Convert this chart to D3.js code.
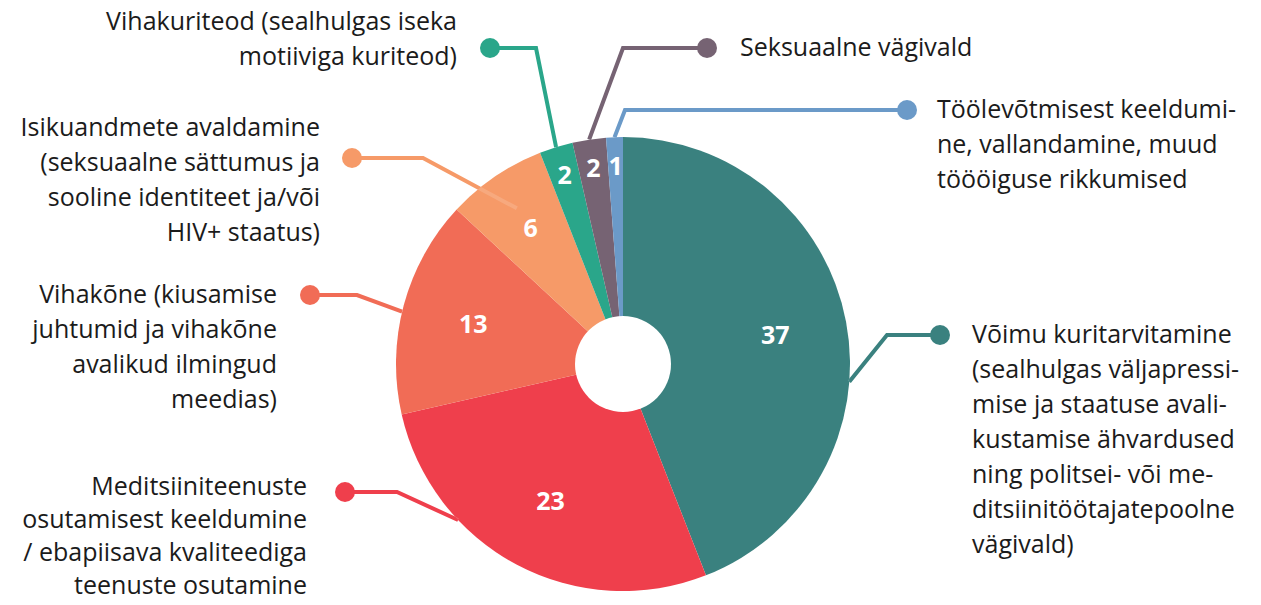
<!DOCTYPE html>
<html><head><meta charset="utf-8">
<script src="https://cdn.jsdelivr.net/npm/d3@7"></script>
<style>
body{margin:0;background:#fff;}
svg{display:block;}
text{font-family:"Open Sans","Noto Sans",sans-serif;}
</style></head>
<body>
<svg id="chart" width="1261" height="605"></svg>
<script>
// ---- data ----
const categories = [
  "Võimu kuritarvitamine",
  "Meditsiiniteenuste osutamisest keeldumine",
  "Vihakõne",
  "Isikuandmete avaldamine",
  "Vihakuriteod",
  "Seksuaalne vägivald",
  "Töölevõtmisest keeldumine"
];
const values = [37, 23, 13, 6, 2, 2, 1];
const labelLines = [
  ["Võimu kuritarvitamine","(sealhulgas väljapressi-","mise ja staatuse avali-","kustamise ähvardused","ning politsei- või me-","ditsiinitöötajatepoolne","vägivald)"],
  ["Meditsiiniteenuste","osutamisest keeldumine","/ ebapiisava kvaliteediga","teenuste osutamine"],
  ["Vihakõne (kiusamise","juhtumid ja vihakõne","avalikud ilmingud","meedias)"],
  ["Isikuandmete avaldamine","(seksuaalne sättumus ja","sooline identiteet ja/või","HIV+ staatus)"],
  ["Vihakuriteod (sealhulgas iseka","motiiviga kuriteod)"],
  ["Seksuaalne vägivald"],
  ["Töölevõtmisest keeldumi-","ne, vallandamine, muud","töööiguse rikkumised"]
];
const colors = ["#3a817f","#ef3f4c","#f16c56","#f69a68","#2aa68a","#766373","#6b9ac8"];

// ---- layout ----
const cx = 623, cy = 364, R = 227, r0 = 48;
const leaders = [
  {frac:0.596, rf:1.0,  elbow:[887,335], dot:[940,335], text:[972,335], anchor:"start", lh:35},
  {frac:0.69,  rf:1.0,  elbow:[397,492], dot:[345,492], text:[307,487], anchor:"end",   lh:33},
  {frac:0.47,  rf:1.0,  elbow:[357,295], dot:[310,295], text:[277,295], anchor:"end",   lh:35},
  {frac:0.5,   rf:0.83, elbow:[423,158], dot:[352,158], text:[320,128], anchor:"end",   lh:35},
  {frac:0.5,   rf:1.0,  elbow:[536,48],  dot:[490,48],  text:[457,22],  anchor:"end",   lh:35},
  {frac:0.5,   rf:1.0,  elbow:[623,48],  dot:[707,48],  text:[740,48],  anchor:"start", lh:35},
  {frac:0.5,   rf:1.0,  elbow:[625,110], dot:[907,110], text:[937,110], anchor:"start", lh:35}
];
const fontSize = 25;

const svg = d3.select("#chart");
const g = svg.append("g").attr("transform", `translate(${cx},${cy})`);

const pie = d3.pie().sort(null).value(d => d)(values);
const arc = d3.arc().innerRadius(0).outerRadius(R);

function polar(a, rad){ return [Math.sin(a)*rad, -Math.cos(a)*rad]; }

const lineData = pie.map((p,i) => {
  const L = leaders[i];
  const a = p.startAngle + L.frac*(p.endAngle - p.startAngle);
  const s = polar(a, R*L.rf);
  return [[s[0],s[1]],[L.elbow[0]-cx,L.elbow[1]-cy],[L.dot[0]-cx,L.dot[1]-cy]];
});
const lineGen = d3.line();

g.selectAll("path.lead").data(lineData).enter().append("path")
  .attr("class","lead")
  .attr("d", lineGen)
  .attr("fill","none")
  .attr("stroke",(d,i)=>colors[i])
  .attr("stroke-width",4)
  .attr("stroke-linejoin","miter");

g.selectAll("path.slice").data(pie).enter().append("path")
  .attr("class","slice")
  .attr("d", arc)
  .attr("fill",(d,i)=>colors[i]);

svg.append("defs").append("clipPath").attr("id","pieclip")
  .append("circle").attr("cx",0).attr("cy",0).attr("r",R);
g.append("g").attr("clip-path","url(#pieclip)")
  .selectAll("path").data(lineData).enter().append("path")
  .attr("d", lineGen)
  .attr("fill","none")
  .attr("stroke","#fff")
  .attr("stroke-opacity",0.15)
  .attr("stroke-width",4);

g.append("circle").attr("r", r0).attr("fill","#fff");

g.selectAll("circle.dot").data(leaders).enter().append("circle")
  .attr("class","dot")
  .attr("cx",d=>d.dot[0]-cx).attr("cy",d=>d.dot[1]-cy)
  .attr("r",10)
  .attr("fill",(d,i)=>colors[i]);

g.selectAll("text.val").data(pie).enter().append("text")
  .attr("class","val")
  .attr("transform", d => {
    const a = (d.startAngle + d.endAngle)/2;
    const rr = d.value < 5 ? 198 : (d.value < 10 ? 164 : 155);
    const p = polar(a, rr);
    return `translate(${p[0]},${p[1]})`;
  })
  .attr("text-anchor","middle")
  .attr("dy","0.36em")
  .attr("fill","#fff")
  .attr("font-weight","bold")
  .attr("font-size",25)
  .text(d => d.value);

leaders.forEach((L,i) => {
  const t = svg.append("text")
    .attr("x", L.text[0]).attr("y", L.text[1])
    .attr("text-anchor", L.anchor)
    .attr("fill","#1b1b1b")
    .attr("font-size",fontSize);
  labelLines[i].forEach((ln,j) => {
    t.append("tspan").attr("x", L.text[0]).attr("y", L.text[1] + j*L.lh)
      .attr("dy","0.33em").text(ln);
  });
});
</script>
</body></html>
